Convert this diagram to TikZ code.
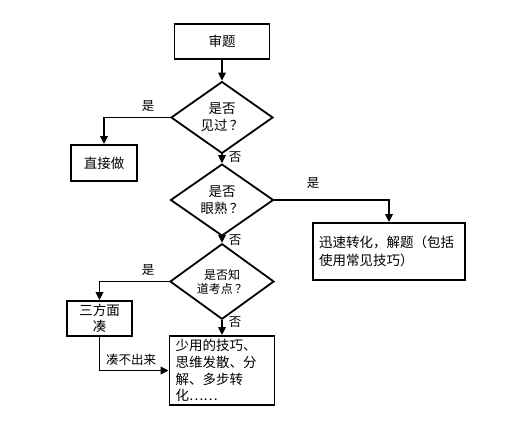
\documentclass[tikz,border=0pt]{standalone}
\usepackage{fontspec}
\setmainfont{Noto Sans CJK SC}
\usetikzlibrary{shapes.geometric,arrows.meta}
\newcommand{\qm}{\kern2.5pt？}
\begin{document}
\begin{tikzpicture}[x=1pt,y=-1pt,line width=1.8pt,
  box/.style={draw,rectangle,inner sep=0pt,font=\fontsize{13.5}{16.5}\selectfont},
  dia/.style={draw,diamond,inner sep=0pt,align=center,font=\fontsize{13.5}{17}\selectfont},
  arr/.style={-{Triangle[length=8pt,width=7.5pt]}},
  lbl/.style={inner sep=0pt,font=\fontsize{12.5}{14}\selectfont}]
\useasboundingbox (0,0) rectangle (509,443);
\node[box,minimum width=95pt,minimum height=35pt] (sht) at (222,41.5) {审题};
\node[dia,minimum width=102pt,minimum height=55pt] (d1) at (222,117.5) {是否\\见过\qm};
\node[box,minimum width=66pt,minimum height=36pt] (zjz) at (104,163) {直接做};
\node[dia,minimum width=103pt,minimum height=56pt] (d2) at (222,200) {是否\\眼熟\qm};
\node[box,minimum width=152pt,minimum height=57pt,align=left,text width=140pt,font=\fontsize{13.5}{18}\selectfont] (xs) at (389,251.5) {迅速转化，解题（包括\\使用常见技巧）};
\node[dia,minimum width=104pt,minimum height=55pt,font=\fontsize{12}{14}\selectfont] (d3) at (222,281.5) {是否知\\道考点\qm};
\node[box,minimum width=65pt,minimum height=35pt,align=center,font=\fontsize{13.5}{16}\selectfont] (sfm) at (99.5,318.5) {三方面\\凑};
\node[box,minimum width=105pt,minimum height=69pt,align=left,text width=93pt,font=\fontsize{13.5}{16.7}\selectfont] (big) at (222,370.5) {少用的技巧、\\思维发散、分\\解、多步转\\化……};
\draw[arr] (sht) -- (d1);
\draw[arr] (d1.west) -| (zjz.north);
\draw[arr] (d1.south) -- (d2.north);
\draw[arr] (d2.east) -| (xs.north);
\draw[arr] (d2.south) -- (d3.north);
\draw[arr] (d3.west) -| (sfm.north);
\draw[arr] (d3.south) -- (big.north);
\draw[arr] (sfm.south) |- (big.west);
\node[lbl] (l1) at (148,106) {是};
\node[lbl] (l2) at (235,157) {否};
\node[lbl] (l3) at (313,183) {是};
\node[lbl] (l4) at (235,240) {否};
\node[lbl] (l5) at (148,270) {是};
\node[lbl] (l6) at (235,322) {否};
\node[lbl] (l7) at (131,360) {凑不出来};
\end{tikzpicture}
\end{document}
